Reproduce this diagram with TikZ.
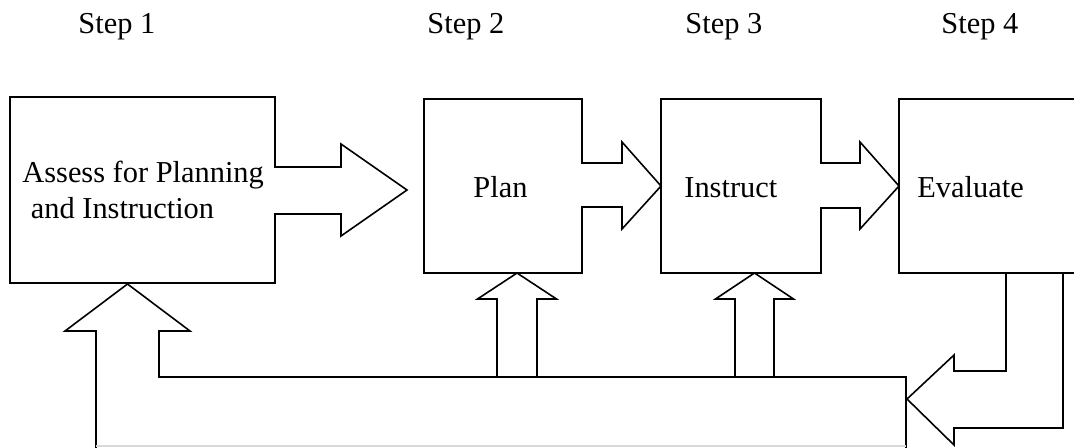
\documentclass[tikz,border=0pt]{standalone}
\usepackage{fontspec}
\setmainfont{Liberation Serif}

\tikzset{
	lbl/.style={anchor=base west, inner sep=0pt, font=\fontsize{15.2}{18}\selectfont},
	outline/.style={line width=0.8pt, line join=miter}
}

\begin{document}
\begin{tikzpicture}[x=0.5pt, y=-0.5pt]
		\useasboundingbox (0,0) rectangle (1074,447);
		
		% Step labels
		\foreach \n/\x in {1/78, 2/427, 3/685, 4/941} {
			\node[lbl] (step\n) at (\x,33) {Step \n};
		}
		
		% Boxes with their arrows
		\draw[outline] (10,97) -- (275,97) -- (275,167) -- (341,167) -- (341,144) -- (407,190)
			-- (341,236) -- (341,214) -- (275,214) -- (275,283) -- (10,283) -- cycle;
		\draw[outline] (424,99) -- (582,99) -- (582,163) -- (622,163) -- (622,142) -- (661,186)
			-- (622,229) -- (622,207) -- (582,207) -- (582,273) -- (424,273) -- cycle;
		\draw[outline] (661,99) -- (821,99) -- (821,163) -- (860,163) -- (860,142) -- (899,186)
			-- (860,229) -- (860,208) -- (821,208) -- (821,273) -- (661,273) -- cycle;
		\draw[outline] (1080,99) -- (899,99) -- (899,273) -- (1080,273);
		
		% Feedback from Evaluate
		\draw[outline] (1006,273) -- (1006,371) -- (954,371) -- (954,355) -- (907,399)
			-- (954,445) -- (954,428) -- (1063,428) -- (1063,273);
		
		% Band back to Step 1
		\draw[outline] (906,450) -- (906,377) -- (159,377) -- (159,331) -- (190,331) -- (127.5,284)
			-- (65,331) -- (96,331) -- (96,450);
		\draw[black!15, line width=0.6pt] (96,446) -- (906,446);
		
		% Arrows up into Plan and Instruct
		\foreach \l/\r in {497/537, 735/774} {
			\draw[outline] (\l,377) -- (\l,299) -- ({\l-19.5},299) -- ({(\l+\r)/2},273)
				-- ({\r+19.5},299) -- (\r,299) -- (\r,377);
		}
		
		% Texts
		\node[lbl] (assess) at (22,182) {Assess for Planning};
		\node[lbl] (instr) at (30.5,218) {and Instruction};
		\node[lbl] (plan) at (473,197) {Plan};
		\node[lbl] (instruct) at (684,197) {Instruct};
		\node[lbl] (evaluate) at (917,197) {Evaluate};
		
	\end{tikzpicture}
\end{document}
